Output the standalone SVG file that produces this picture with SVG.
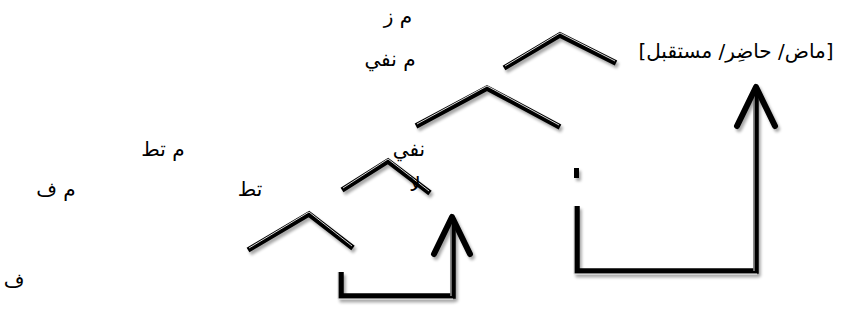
<svg xmlns="http://www.w3.org/2000/svg" width="851" height="322" viewBox="0 0 851 322">
  <style>
    .lbl { font-family: "DejaVu Sans", "Noto Sans", sans-serif; font-size: 20px; fill: #000; text-anchor: middle; }
    .heavy { fill: none; stroke: #000; stroke-width: 5.5; stroke-linejoin: miter; stroke-linecap: butt; }
    .seam { fill: none; stroke: #d8d8d8; stroke-width: 1; }
  </style>
  <defs>
    <filter id="shade" x="-20%" y="-20%" width="140%" height="140%">
      <feGaussianBlur in="SourceAlpha" stdDeviation="1.6"/>
      <feOffset dx="1.5" dy="2.5" result="b"/>
      <feComponentTransfer><feFuncA type="linear" slope="0.35"/></feComponentTransfer>
      <feMerge><feMergeNode/><feMergeNode in="SourceGraphic"/></feMerge>
    </filter>
  </defs>

  <rect width="851" height="322" fill="#fff"/>

  <!-- branch connectors -->
  <g id="connectors" filter="url(#shade)">
    <path class="heavy" d="M504,68 L560,35 L616,63"/>
    <path class="seam" d="M505,66 L560,33 L615,61"/>
    <path class="heavy" d="M416,126 L487,88 L560,127"/>
    <path class="seam" d="M417,124 L487,86 L559,125"/>
    <path class="heavy" d="M342,190 L388,161 L430,193"/>
    <path class="seam" d="M343,188 L388,159 L429,191"/>
    <path class="heavy" d="M248,250 L309,214 L353,248"/>
    <path class="seam" d="M249,248 L309,212 L352,246"/>

    <!-- movement arrow: تط to نفي -->
    <path class="heavy" d="M341,272 L341,296 L453,296 L453,218"/>
    <path class="seam" d="M338,272 L338,299 L453,299"/>
    <path class="seam" d="M451,296 L451,220"/>
    <path d="M434,254 L452,217 L470,254" fill="none" stroke="#000" stroke-width="6" stroke-linecap="round" stroke-linejoin="round"/>

    <!-- movement arrow: لا to tense -->
    <rect x="574" y="168" width="5" height="10" fill="#000"/>
    <path class="heavy" d="M577,206 L577,271 L756,271 L756,88"/>
    <path class="seam" d="M574,206 L574,274 L757,274"/>
    <path class="seam" d="M754,271 L754,90"/>
    <path d="M737,126 L756,87 L775,126" fill="none" stroke="#000" stroke-width="6" stroke-linecap="round" stroke-linejoin="round"/>
  </g>

  <g id="n-mz"><text class="lbl" x="398" y="23">م ز</text></g>
  <g id="n-mnafi"><text class="lbl" x="390" y="66">م نفي</text></g>
  <g id="n-tense"><text class="lbl" x="736" y="58" font-size="24">[ماض/ حاضِر/ مستقبل]</text></g>
  <g id="n-nafi"><text class="lbl" x="409" y="156" font-size="18">نفي</text></g>
  <g id="n-la"><text class="lbl" x="415" y="191">لا</text></g>
  <g id="n-mtat"><text class="lbl" x="163" y="156">م تط</text></g>
  <g id="n-tat"><text class="lbl" x="250" y="196">تط</text></g>
  <g id="n-mf"><text class="lbl" x="56" y="196">م ف</text></g>
  <g id="n-f"><text class="lbl" x="14" y="287">ف</text></g>
</svg>
